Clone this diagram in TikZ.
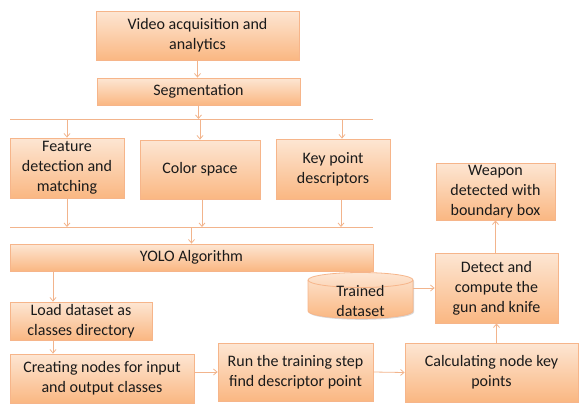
\documentclass[tikz,border=0pt]{standalone}
\usepackage{fontspec}
\setmainfont{Carlito}
\usetikzlibrary{arrows.meta,shadows}

\definecolor{boxtop}{HTML}{FDE6D3}
\definecolor{boxbot}{HTML}{FAB782}
\definecolor{boxedge}{HTML}{F6B58A}
\definecolor{wire}{HTML}{F2B48C}
\definecolor{ink}{HTML}{1A1A1A}

\tikzset{
  boxfill/.style={top color=boxtop, bottom color=boxbot, draw=boxedge, line width=0.8pt},
  boxfont/.style={font=\fontsize{16}{20}\selectfont, text=ink},
  procbox/.style={boxfill, boxfont, rectangle, inner sep=0pt, align=center,
    drop shadow={shadow xshift=1pt, shadow yshift=-1.3pt, opacity=0.25, fill=black!60}},
  wireline/.style={draw=wire, line width=0.8pt},
  arr/.style={wireline, -{Straight Barb[length=3.5pt,width=6pt,line width=0.8pt]}},
}

\begin{document}
\begin{tikzpicture}[x=1pt, y=-1pt]
  \useasboundingbox (0,0) rectangle (579,405);

  % processing stages
  \node[procbox, minimum width=203pt, minimum height=49pt] (video) at (197.5,35.5)
    {Video acquisition and\\analytics};
  \node[procbox, minimum width=203pt, minimum height=27pt] (seg) at (198.5,91.5)
    {Segmentation};
  \node[procbox, minimum width=114pt, minimum height=60pt] (feat) at (67,168)
    {Feature\\detection and\\matching};
  \node[procbox, minimum width=120pt, minimum height=59pt] (color) at (200,169.5)
    {Color space};
  \node[procbox, minimum width=114pt, minimum height=60pt] (key) at (333,169)
    {Key point\\descriptors};
  \node[procbox, minimum width=363pt, minimum height=27pt] (yolo) at (191.5,257.5)
    {YOLO Algorithm};
  \node[procbox, minimum width=142pt, minimum height=38pt] (load) at (81,321)
    {Load dataset as\\classes directory};
  \node[procbox, minimum width=184pt, minimum height=49pt] (create) at (102,378.5)
    {Creating nodes for input\\and output classes};
  \node[procbox, minimum width=155pt, minimum height=58pt] (run) at (295.5,372)
    {Run the training step\\find descriptor point};
  \node[procbox, minimum width=173pt, minimum height=59pt] (calc) at (491.5,372.5)
    {Calculating node key\\points};
  \node[procbox, minimum width=123pt, minimum height=70pt] (detect) at (496.5,288)
    {Detect and\\compute the\\gun and knife};
  \node[procbox, minimum width=119pt, minimum height=57pt] (weapon) at (495.5,191.5)
    {Weapon\\detected with\\boundary box};

  % trained dataset drum
  \path[boxfill, drop shadow={shadow xshift=1pt, shadow yshift=-1.3pt, opacity=0.25, fill=black!60}]
    (308,280) -- (308,311) arc[start angle=180, end angle=360, x radius=52.5pt, y radius=7.5pt]
    -- (413,280) arc[start angle=0, end angle=180, x radius=52.5pt, y radius=7.5pt] -- cycle;
  \draw[draw=boxedge, line width=0.8pt]
    (308,280) arc[start angle=180, end angle=360, x radius=52.5pt, y radius=7.5pt];
  \node[minimum width=105pt, minimum height=45pt, inner sep=0pt] (cyl) at (360.5,295.5) {};
  \node[boxfont, align=center, inner sep=0pt] (cyltext) at (360.5,301) {Trained\\dataset};

  % bus lines
  \coordinate (busA1) at (10,119);
  \coordinate (busA2) at (373,119);
  \coordinate (busB1) at (10,227);
  \coordinate (busB2) at (373,227);
  \coordinate (lx) at (53,0);
  \draw[wireline] (busA1) -- (busA2);
  \draw[wireline] (busB1) -- (busB2);

  % connectors
  \draw[arr] (video.south) -- (video.south |- seg.north);
  \draw[arr] (seg.south) -- (seg.south |- busA1);
  \draw[arr] (feat.north |- busA1) -- (feat.north);
  \draw[arr] (color.north |- busA1) -- (color.north);
  \draw[arr] ([xshift=9pt]key.north |- busA1) -- ([xshift=9pt]key.north);
  \draw[arr] (feat.south) -- (feat.south |- busB1);
  \draw[arr] ([xshift=2pt]color.south) -- ([xshift=2pt]color.south |- busB1);
  \draw[arr] ([xshift=8pt]key.south) -- ([xshift=8pt]key.south |- busB1);
  \draw[arr] (yolo.north |- busB1) -- (yolo.north);
  \draw[arr] (lx |- yolo.south) -- (lx |- load.north);
  \draw[arr] (lx |- load.south) -- (lx |- create.north);
  \draw[arr] (create.east |- run.west) -- (run.west);
  \draw[arr] (run.east) -- (calc.west);
  \draw[arr] (detect.south |- calc.north) -- (detect.south);
  \draw[arr] (cyl.east |- detect.west) -- (detect.west);
  \draw[arr] ([xshift=-1pt]detect.north) -- ([xshift=-1pt]detect.north |- weapon.south);
\end{tikzpicture}
\end{document}
